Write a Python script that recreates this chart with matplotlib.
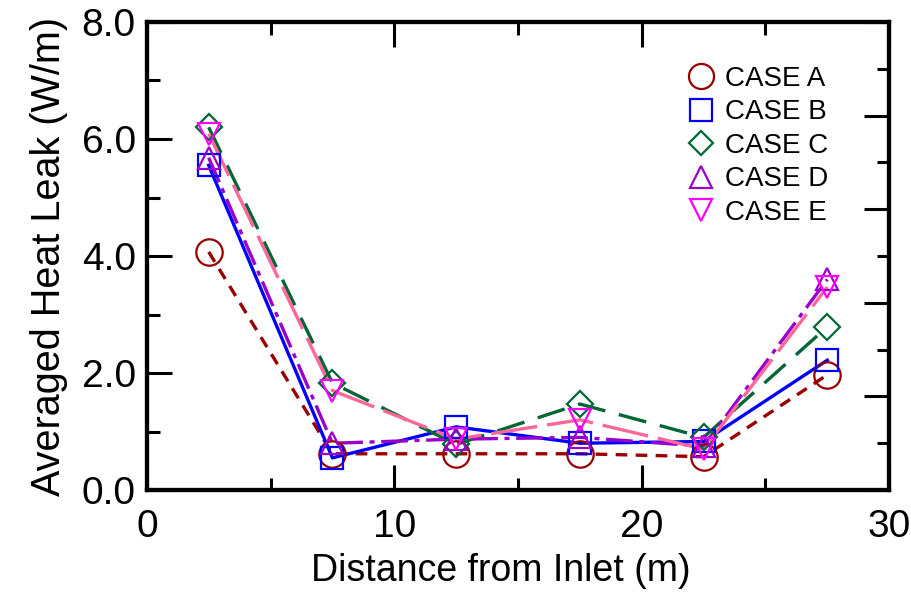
import matplotlib
matplotlib.use("Agg")
import matplotlib.pyplot as plt
from matplotlib.ticker import MultipleLocator, FormatStrFormatter
from matplotlib.lines import Line2D

plt.rcParams['font.family'] = ['Liberation Sans', 'DejaVu Sans']

# distance from inlet (m) and averaged heat leak (W/m) per case
dist = [2.5, 7.5, 12.5, 17.5, 22.5, 27.5]
case_a = [4.07, 0.62, 0.62, 0.62, 0.57, 1.97]
case_b = [5.55, 0.55, 1.08, 0.80, 0.83, 2.22]
case_c = [6.20, 1.83, 0.78, 1.47, 0.90, 2.79]
case_d = [5.68, 0.80, 0.87, 0.90, 0.75, 3.60]
case_e = [6.09, 1.70, 0.87, 1.20, 0.70, 3.47]
labels = ['CASE A', 'CASE B', 'CASE C', 'CASE D', 'CASE E']

series = [case_a, case_b, case_c, case_d, case_e]
markers = ['o', 's', 'D', '^', 'v']
msizes = [19, 16, 13, 16, 16]
mcolors = ['#990000', '#0000ff', '#006633', '#9900cc', '#ff00ff']
lcolors = ['#990000', '#0000ff', '#006633', '#9900cc', '#ff6699']
dashes = [(3.5, 2.5), (), (8.5, 4.2), (8, 2, 1.5, 2), (14, 3)]

fig = plt.figure(figsize=(9.12, 5.94), dpi=100)
ax = fig.add_axes([0.161, 0.175, 0.814, 0.788])

for y, m, ms, mc, lc, d in zip(series, markers, msizes, mcolors, lcolors, dashes):
    ln, = ax.plot(dist, y, color=lc, lw=2.4, zorder=2)
    if d:
        ln.set_dashes(d)
    ax.plot(dist, y, ls='none', marker=m, ms=ms, mfc='none', mec=mc,
            mew=1.6, zorder=3)

ax.set_xlim(0, 30)
ax.set_ylim(0, 8)
ax.xaxis.set_major_locator(MultipleLocator(10))
ax.xaxis.set_minor_locator(MultipleLocator(5))
ax.yaxis.set_major_locator(MultipleLocator(2))
ax.yaxis.set_minor_locator(MultipleLocator(1))
ax.yaxis.set_major_formatter(FormatStrFormatter('%.1f'))
ax.tick_params(which='both', direction='in', width=2.2, top=True, right=False,
               labelsize=28)
ax.tick_params(which='major', length=18, pad=8)
ax.tick_params(which='minor', length=9)
ax.tick_params(axis='x', pad=14)
for s in ax.spines.values():
    s.set_linewidth(3)

ax.set_xlabel('Distance from Inlet (m)', fontsize=27, labelpad=0)
ax.xaxis.set_label_coords(0.477, -0.135)
ax.set_ylabel('Averaged Heat Leak (W/m)', fontsize=28.5, labelpad=10)

# unlabeled right-hand scale
ax2 = ax.twinx()
ax2.set_ylim(0, 10)
ax2.yaxis.set_major_locator(MultipleLocator(2))
ax2.yaxis.set_minor_locator(MultipleLocator(1))
ax2.tick_params(which='both', direction='in', width=2.2, labelright=False)
ax2.tick_params(which='major', length=18)
ax2.tick_params(which='minor', length=9)
for s in ax2.spines.values():
    s.set_linewidth(3)

handles = [Line2D([], [], ls='none', marker=m, ms=ms * 0.95, mfc='none',
                  mec=mc, mew=1.6)
           for m, ms, mc in zip(markers, msizes, mcolors)]
ax2.legend(handles, labels, loc='upper right', bbox_to_anchor=(0.933, 0.93),
           frameon=False, fontsize=20, handletextpad=0.25, labelspacing=0.27,
           handlelength=1.2, borderaxespad=0)

fig.savefig('out.png', dpi=100)
